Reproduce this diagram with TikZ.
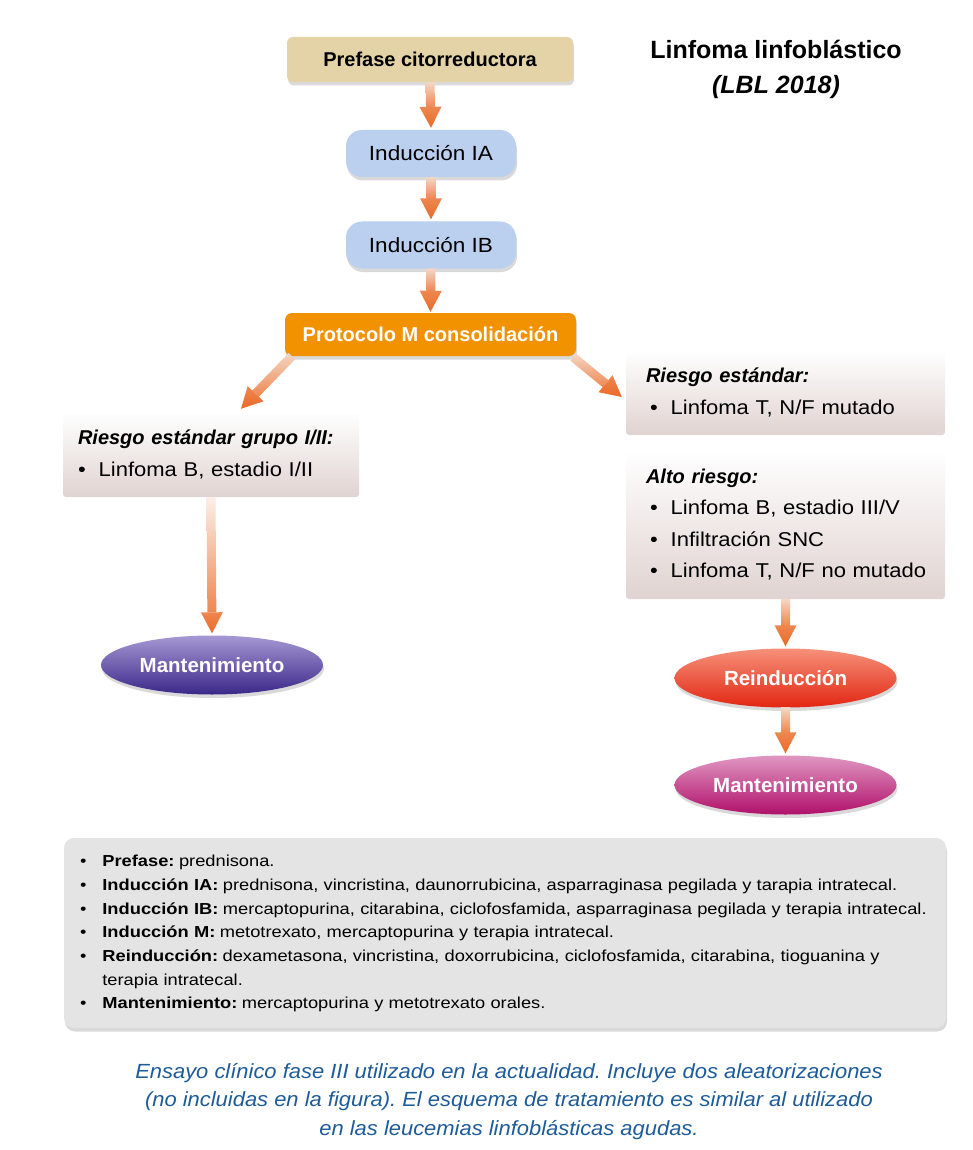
\documentclass[tikz,border=0pt]{standalone}
\usepackage{fontspec}
\setmainfont{Liberation Sans}
\newfontfamily\widefont[FakeStretch=1.1]{Liberation Sans}
\newfontfamily\legendfont[FakeStretch=1.15]{Liberation Sans}
\newfontfamily\captfont[FakeStretch=1.07]{Liberation Sans}
\usetikzlibrary{shapes.geometric,shadows,calc}
\frenchspacing
\definecolor{prefill}{HTML}{E3D3A7}
\definecolor{indfill}{HTML}{BBCFEE}
\definecolor{protfill}{HTML}{F39200}
\definecolor{riskbot}{HTML}{E0D3D1}
\definecolor{arrlight}{HTML}{F4D6C4}
\definecolor{arrpale}{HTML}{FBEFE8}
\definecolor{arrdark}{HTML}{EE8750}
\definecolor{arrhead}{HTML}{EA6A28}
\definecolor{mantAtop}{HTML}{A698D4}
\definecolor{mantAbot}{HTML}{3A2888}
\definecolor{reintop}{HTML}{F6917A}
\definecolor{reinbot}{HTML}{E22612}
\definecolor{mantBtop}{HTML}{E097C2}
\definecolor{mantBbot}{HTML}{B0106A}
\definecolor{legfill}{HTML}{E4E4E4}
\definecolor{captblue}{HTML}{1E5C99}
\newcommand\garrow[3][arrlight]{%
  \coordinate (ga-s) at (#2);
  \coordinate (ga-e) at (#3);
  \coordinate (ga-c) at ($(ga-e)!21pt!(ga-s)$);
  \shade[top color=#1, bottom color=arrdark]
    ($(ga-s)!4.5pt!90:(ga-e)$) -- ($(ga-s)!4.5pt!-90:(ga-e)$) --
    ($(ga-c)!4.5pt!90:(ga-s)$) -- ($(ga-c)!4.5pt!-90:(ga-s)$) -- cycle;
  \shade[top color=arrdark, bottom color=arrhead]
    ($(ga-c)!11pt!90:(ga-s)$) -- (ga-e) -- ($(ga-c)!11pt!-90:(ga-s)$) -- cycle;
}
\tikzset{
  shadowed/.style={drop shadow={shadow xshift=1pt, shadow yshift=-3.5pt, opacity=0.15, fill=black}},
  prebox/.style={shadowed, fill=prefill, rounded corners=6pt, minimum width=286pt,
    minimum height=45pt, inner sep=0pt, font=\fontsize{20}{24}\selectfont\bfseries},
  indbox/.style={shadowed, fill=indfill, rounded corners=16pt, minimum width=170pt,
    minimum height=47pt, inner sep=0pt, font=\widefont\fontsize{20.5}{24}\selectfont},
  protbox/.style={shadowed, fill=protfill, rounded corners=7pt, minimum width=291pt,
    minimum height=43pt, inner sep=0pt, text=white, font=\fontsize{20}{24}\selectfont\bfseries},
  riskbox/.style={top color=white, bottom color=riskbot, rounded corners=3pt, align=left,
    inner ysep=0pt, font=\widefont\fontsize{20}{31.5}\selectfont},
  ellbox/.style={shadowed, ellipse, minimum width=222pt, minimum height=59pt, inner sep=0pt,
    text=white, font=\fontsize{20.5}{24}\selectfont\bfseries},
}
\newcommand\rtitle[1]{\mbox{\rmfamily\bfseries\itshape #1}}
\newcommand\bul[2][0pt]{\mbox{\hspace{#1}\textbullet\hspace{13pt}#2}}
\newcommand\lit[2]{\textbf{#1}\hspace{0.28em}#2}
\begin{document}
\begin{tikzpicture}[x=1pt,y=-1pt]
\fill[white] (0,0) rectangle (973,1150);
\useasboundingbox (0,0) rectangle (973,1150);

% title
\node[align=center, font=\fontsize{25}{35}\selectfont\bfseries] (title) at (776,69.5)
  {Linfoma linfobl\'astico\\\itshape (LBL 2018)};

% main column
\node[prebox] (pre) at (430,59.5) {Prefase citorreductora};
\node[indbox] (ia) at (431,153.5) {Inducción IA};
\node[indbox] (ib) at (431,245) {Inducción IB};
\node[protbox] (prot) at (430.5,334.5) {Protocolo M consolidación};

% risk boxes
\node[riskbox, minimum width=296pt, minimum height=85pt, inner xsep=15pt, text width=266pt] (lrisk) at (211,454.5)
  {\rtitle{Riesgo estándar grupo I/II:}\\\bul{Linfoma B, estadio I/II}};
\node[riskbox, minimum width=319pt, minimum height=85pt, inner xsep=20pt, text width=279pt] (rrisk1) at (785.5,392.5)
  {\rtitle{Riesgo estándar:}\\\bul[4pt]{Linfoma T, N/F mutado}};
\node[riskbox, minimum width=319pt, minimum height=149pt, inner xsep=20pt, text width=279pt] (rrisk2) at (785.5,524.5)
  {\rtitle{Alto riesgo:}\\\bul[4pt]{Linfoma B, estadio III/V}\\\bul[4pt]{Infiltración SNC}\\\bul[4pt]{Linfoma T, N/F no mutado}};

% ellipses
\node[ellbox, top color=mantAtop, bottom color=mantAbot] (lmant) at (212,665) {Mantenimiento};
\node[ellbox, top color=reintop, bottom color=reinbot] (reind) at (785.5,678) {Reinducción};
\node[ellbox, top color=mantBtop, bottom color=mantBbot] (rmant) at (785.5,785) {Mantenimiento};

% arrows
\garrow{pre.south}{$(ia.north)+(0,-2)$}
\garrow{ia.south}{$(ib.north)+(0,-2)$}
\garrow{ib.south}{$(prot.north)+(0,-1)$}
\garrow{$(prot.south west)+(7,0)$}{$(lrisk.north)+(30,-3)$}
\garrow{$(prot.south east)+(-3,1)$}{$(rrisk1.west)+(-4,4.5)$}
\garrow[arrpale]{lrisk.south}{$(lmant.north)+(0,-2)$}
\garrow{rrisk2.south}{$(reind.north)+(0,-2)$}
\garrow{reind.south}{$(rmant.north)+(0,-2)$}

% legend
\node[shadowed, fill=legfill, rounded corners=10pt, minimum width=882pt, minimum height=190pt,
  inner xsep=16pt, text width=850pt, align=left,
  font=\legendfont\fontsize{15.9}{23.7}\selectfont] (legend) at (505,933)
  {\begin{tabular}{@{}l@{\hspace{16pt}}l@{}}
   \textbullet & \lit{Prefase:}{prednisona.}\\
   \textbullet & \lit{Inducción IA:}{prednisona, vincristina, daunorrubicina, asparraginasa pegilada y tarapia intratecal.}\\
   \textbullet & \lit{Inducción IB:}{mercaptopurina, citarabina, ciclofosfamida, asparraginasa pegilada y terapia intratecal.}\\
   \textbullet & \lit{Inducción M:}{metotrexato, mercaptopurina y terapia intratecal.}\\
   \textbullet & \lit{Reinducción:}{dexametasona, vincristina, doxorrubicina, ciclofosfamida, citarabina, tioguanina y}\\
               & terapia intratecal.\\
   \textbullet & \lit{Mantenimiento:}{mercaptopurina y metotrexato orales.}
   \end{tabular}};

% caption
\node[align=center, text=captblue, font=\captfont\itshape\fontsize{20.5}{28.5}\selectfont] (caption) at (509,1101.5)
  {Ensayo clínico fase III utilizado en la actualidad. Incluye dos aleatorizaciones\\
   (no incluidas en la figura). El esquema de tratamiento es similar al utilizado\\
   en las leucemias linfoblásticas agudas.};
\end{tikzpicture}
\end{document}
